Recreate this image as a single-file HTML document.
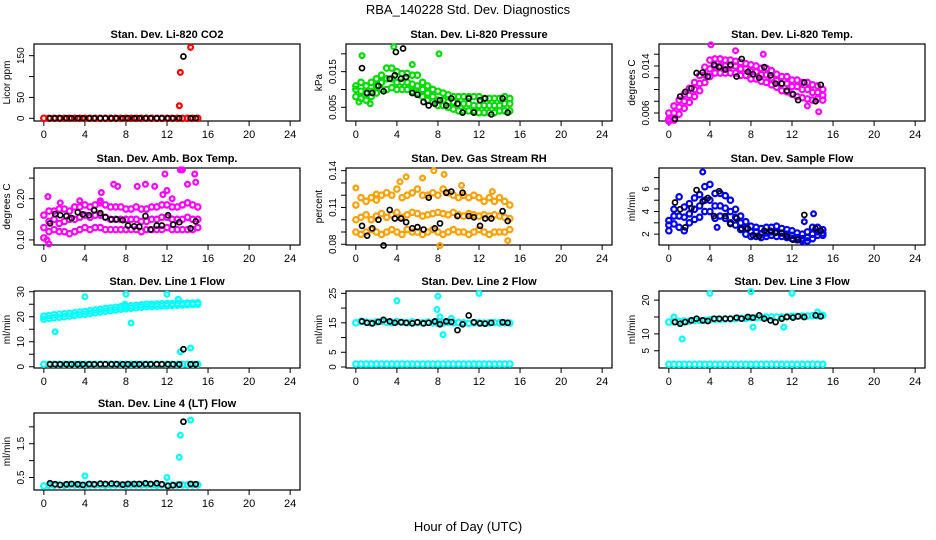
<!DOCTYPE html>
<html><head><meta charset="utf-8"><style>
html,body{margin:0;padding:0;background:#fff}
svg{display:block}
text{font-family:"Liberation Sans",sans-serif}
</style></head><body>
<svg id="chart" width="936" height="540" xmlns="http://www.w3.org/2000/svg">
<text x="468" y="14" text-anchor="middle" font-size="13">RBA_140228  Std. Dev. Diagnostics</text>
<text x="468" y="531" text-anchor="middle" font-size="13">Hour of Day (UTC)</text>
</svg>
<script>
// shared times (hours) for main series
const T = [0,0.5,1,1.5,2,2.5,3,3.5,4,4.5,5,5.5,6,6.5,7,7.5,8,8.5,9,9.5,10,10.5,11,11.5,12,12.5,13,13.5,14,14.5,15];
// black sample times
const BT = [0.6,1.1,1.6,2.2,2.7,3.3,3.8,4.4,4.9,5.5,6.0,6.6,7.1,7.7,8.2,8.8,9.3,9.9,10.4,11.0,11.5,12.1,12.6,13.2,14.3,14.8];
const xTicks = [0,4,8,12,16,20,24];

// Panel 1: CO2
const co2Main = [0,0,0,0,0,0,0,0,0,0,0,0,0,0,0,0,0,0,0,0,0,0,0,0,0,0,0,0,0,0,0];
const co2OutT = [13.2,13.3,14.3];
const co2OutV = [30,110,170];
const co2Black = [0,0,0,0,0,0,0,0,0,0,0,0,0,0,0,0,0,0,0,0,0,0,0,0,0,0];
const co2BlackOutT = [13.6];
const co2BlackOutV = [148];
// Panel 2: pressure (x0.001 kPa)
const presHi = [11,12,11,12,13,14,16,16,15,14.5,14.5,14,14,12,11,10,9.5,9,8.5,8,8,8,8,8,8,7.5,7.5,7.5,7.5,8,7.5];
const presMid = [10,9.5,9,9.5,11,12,13,13,12,12,12,11.5,11,10,9,8,7,7,6.5,6.5,6,6,6,5.5,5.5,5.5,5.5,5.5,5.5,6,6];
const presLo = [8,7.5,7,8,9,10,10,10.5,10,10,10,9.5,9,8,7,6.5,5.5,5.5,5,4.5,4,4,4,4,3.5,3.5,3.5,3.5,4,4,4];
const presOutT = [0.6,3.7,5.5,8.1,0.3,1.4];
const presOutV = [19.5,22,17,20,6.5,6];
const presBlack = [16,9,9,11,9.5,13,14,13,13.5,9,8.5,6.5,5.5,6,7,5.5,7.5,6,3.5,7.5,3.5,7,7.5,3,7.5,3.5];
const presBlackOutT = [3.9,4.6];
const presBlackOutV = [20.5,21.5];
// Panel 3: Li-820 temp (x0.001)
const tempHi = [6,7.2,8.2,9.2,10.2,11.2,12.4,13.8,15,15.2,15.2,15,15,14.8,14.6,14.4,14.2,14,13.6,13.6,13.2,12.6,12.2,12.2,11.6,11.6,11.2,11.2,10.8,10.6,10];
const tempMid = [5,6,7,8,9,10,11,12.5,13.5,14,14,14,14,14,13.5,13.5,13,13,12.5,12.5,12,11.5,11,11,10.5,10.5,10,10,9.5,9.5,9];
const tempLo = [4.6,4.8,5.8,6.8,7.8,8.8,9.8,11.2,12.2,12.8,12.8,12.8,12.8,12.8,12.4,12.4,11.8,11.8,11.4,11.2,10.8,10.4,9.8,9.6,9.2,8.8,8.6,8.4,8.2,8.4,8.2];
const tempOutT = [4.1,6.5,9.2,13.5,14.6];
const tempOutV = [17.6,16.6,16,7.2,6.2];
const tempBlack = [5,8.8,9.6,10.2,12.8,12.9,12.2,14.2,13.8,13.4,14.2,12.2,15.2,13,12.6,12,13.8,12.4,11,11,9.8,9.2,8.2,11.2,8,10.8];
// Panel 4: amb box temp
const ambHi = [0.16,0.17,0.17,0.175,0.175,0.17,0.18,0.18,0.185,0.18,0.185,0.19,0.185,0.18,0.18,0.18,0.175,0.175,0.18,0.175,0.175,0.18,0.18,0.185,0.185,0.18,0.18,0.185,0.19,0.185,0.18];
const ambMid = [0.13,0.145,0.15,0.14,0.145,0.15,0.15,0.155,0.16,0.155,0.16,0.16,0.155,0.15,0.15,0.15,0.15,0.15,0.15,0.145,0.145,0.15,0.15,0.155,0.155,0.15,0.15,0.15,0.155,0.15,0.15];
const ambLo = [0.105,0.12,0.125,0.12,0.12,0.115,0.12,0.125,0.13,0.125,0.13,0.13,0.125,0.125,0.125,0.125,0.125,0.125,0.125,0.12,0.125,0.125,0.125,0.125,0.13,0.125,0.125,0.125,0.125,0.125,0.13];
const ambOutT = [0.3,0.5,0.4,1.6,5.6,6.8,7.2,9.1,9.9,10.8,11.6,11.8,12.0,13.3,13.5,14.0,14.7,14.8,3.5,5.5,12.5];
const ambOutV = [0.1,0.09,0.205,0.19,0.215,0.235,0.23,0.23,0.235,0.23,0.21,0.26,0.22,0.27,0.27,0.235,0.26,0.24,0.195,0.195,0.2];
const ambBlack = [0.14,0.163,0.16,0.158,0.153,0.167,0.162,0.16,0.172,0.165,0.155,0.15,0.15,0.148,0.135,0.133,0.132,0.158,0.125,0.135,0.135,0.16,0.137,0.143,0.128,0.145];
// Panel 5: gas stream RH
const rhHi = [0.112,0.118,0.115,0.118,0.116,0.12,0.122,0.12,0.125,0.118,0.12,0.122,0.125,0.12,0.12,0.122,0.12,0.125,0.122,0.12,0.118,0.12,0.118,0.12,0.118,0.115,0.118,0.115,0.118,0.115,0.112];
const rhMid = [0.1,0.102,0.104,0.1,0.103,0.105,0.102,0.104,0.106,0.102,0.104,0.106,0.105,0.103,0.104,0.105,0.106,0.105,0.104,0.106,0.104,0.103,0.105,0.104,0.103,0.104,0.103,0.104,0.103,0.102,0.101];
const rhLo = [0.09,0.088,0.09,0.092,0.09,0.088,0.09,0.092,0.09,0.088,0.092,0.09,0.09,0.088,0.09,0.092,0.09,0.088,0.09,0.092,0.09,0.09,0.088,0.09,0.092,0.09,0.088,0.09,0.09,0.09,0.092];
const rhOutT = [0,4.3,4.9,6.5,7.6,8.6,8.2,10.3,13.3,14.8,2.0];
const rhOutV = [0.126,0.131,0.135,0.134,0.14,0.137,0.079,0.128,0.123,0.083,0.121];
const rhBlack = [0.095,0.087,0.093,0.1,0.079,0.108,0.101,0.101,0.098,0.093,0.094,0.092,0.118,0.093,0.097,0.122,0.123,0.103,0.122,0.103,0.102,0.095,0.101,0.101,0.107,0.099];
// Panel 6: sample flow
const flowHi = [3.2,4.2,5.3,4.4,4.7,5.2,5.5,6.2,6.4,5.6,5.6,5.4,5,4.2,3.6,3.1,2.7,2.6,2.5,2.6,2.6,2.7,2.5,2.4,2.3,2.1,2,2.2,2.6,2.6,2.4];
const flowMid = [2.8,3.6,3.6,3.5,3.8,4.2,4.5,5,5,4.5,4.5,4.3,4,3.5,3,2.5,2.2,2.2,2,2.1,2.2,2.2,2.1,2,1.9,1.7,1.6,1.7,2,2.2,2.1];
const flowLo = [2.3,2.9,2.6,2.3,3,3.3,3.5,4,4,3.4,3.6,3.4,3,2.8,2.4,2,1.8,1.8,1.7,1.8,1.9,1.8,1.8,1.7,1.6,1.5,1.4,1.4,1.6,1.9,1.9];
const flowOutT = [3.3,4.7,13.2,14.1];
const flowOutV = [7.5,2.6,3.1,3.8];
const flowBlack = [4.8,4.2,2.6,4.3,5.9,4.9,5.2,3.6,5.8,3.6,2.9,3.4,2.5,2.5,1.9,1.8,2.3,2.3,2.1,2.1,1.8,1.5,1.5,3.7,2.5,2.3];
// Panel 7: line 1 flow
const l1Band = [19,19.3,19.6,19.8,20,20.3,20.5,20.8,21,21.3,21.6,21.9,22.2,22.4,22.7,23,23.2,23.4,23.6,23.8,24,24.1,24.2,24.3,24.4,24.5,24.6,24.7,24.8,24.9,25];
const l1Band2 = [20.2,20.5,20.8,21,21.2,21.4,21.6,21.9,22.1,22.4,22.7,23,23.3,23.5,23.8,24,24.2,24.4,24.6,24.8,25,25,25.1,25.2,25.3,25.3,25.4,25.4,25.5,25.5,25.6];
const l1Base = [1,1,1,1,1,1,1,1,1,1,1,1,1,1,1,1,1,1,1,1,1,1,1,1,1,1,1,1,1,1,1];
const l1OutT = [4,8,12,1.1,8.5,13.3,14.3,7.9,13.1];
const l1OutV = [28,29,29,14,17.5,6,7.5,25,27];
const l1Black = [1,1,1,1,1,1,1,1,1,1,1,1,1,1,1,1,1,1,1,1,1,1,1,1,1,1];
const l1BlackOutT = [13.6];
const l1BlackOutV = [7];
// Panel 8: line 2 flow
const l2Band = [15,15.5,15.2,15,15.3,15.5,15.2,15,15.4,15.2,15,15.3,15.1,15,15.2,15,14.8,15,15.2,15,15.1,15,14.8,15,15,14.9,15,15.1,15,15,14.9];
const l2Base = [1,1,1,1,1,1,1,1,1,1,1,1,1,1,1,1,1,1,1,1,1,1,1,1,1,1,1,1,1,1,1];
const l2OutT = [4,8,12,7.9,8.5,8.2,9.3];
const l2OutV = [22.5,24,25,19.5,11,17,16.5];
const l2Black = [15.5,15,14.8,15.3,16,15.5,15,15.2,15,14.8,15.2,14.8,15,15.5,14.5,15.5,15.3,12.5,14.5,17.5,15.2,14.8,14.7,15,15.2,15];
// Panel 9: line 3 flow
const l3Band = [13.5,13.6,13.7,13.8,13.8,14,14,14,14.2,14.3,14.3,14.4,14.4,14.5,14.6,14.6,14.8,14.8,14.9,15,15,15,15,15.1,15.2,15.2,15.3,15.3,15.4,15.4,15.5];
const l3Base = [1,1,1,1,1,1,1,1,1,1,1,1,1,1,1,1,1,1,1,1,1,1,1,1,1,1,1,1,1,1,1];
const l3OutT = [4,8,12,1.3,8.2,11.2,14.5,0.5];
const l3OutV = [22,22.5,22,8.5,12,12,16.5,15];
const l3Black = [13.5,13,13.5,14,14.5,14,13.8,14.5,14.5,14.5,14.5,14.8,14.5,15,14.8,15.5,14.5,14,13.5,14.5,15,14.8,15.2,15,15.5,15.2];
// Panel 10: line 4 flow
const l4Band = [0.25,0.27,0.27,0.28,0.27,0.28,0.28,0.28,0.27,0.28,0.28,0.28,0.27,0.28,0.28,0.28,0.27,0.28,0.28,0.28,0.28,0.28,0.27,0.28,0.27,0.28,0.28,0.28,0.28,0.28,0.28];
const l4OutT = [4,12,13.2,13.3,14.3];
const l4OutV = [0.55,0.5,1.1,1.75,2.2];
const l4Black = [0.33,0.3,0.28,0.3,0.31,0.3,0.28,0.31,0.3,0.32,0.31,0.32,0.31,0.29,0.31,0.31,0.31,0.33,0.31,0.33,0.3,0.25,0.27,0.29,0.31,0.3];
const l4BlackOutT = [13.6];
const l4BlackOutV = [2.15];

const panels = [
 {name:'co2',title:'Stan. Dev. Li-820 CO2',ylab:'Licor ppm',col:0,row:0,ylim:[-6.5,178],ticks:[0,50,100,150],labels:[0,50,null,150],color:'#ff0000',
  main:[co2Main],outT:co2OutT,outV:co2OutV,black:co2Black,bOutT:co2BlackOutT,bOutV:co2BlackOutV},
 {name:'pressure',title:'Stan. Dev. Li-820 Pressure',ylab:'kPa',col:1,row:0,ylim:[1.16,22.76],ticks:[5,10,15,20],labels:['0.005',null,'0.015',null],color:'#00dd00',
  main:[presHi,presMid,presLo],outT:presOutT,outV:presOutV,black:presBlack,bOutT:presBlackOutT,bOutV:presBlackOutV},
 {name:'li820-temp',title:'Stan. Dev. Li-820 Temp.',ylab:'degrees C',col:2,row:0,ylim:[4.64,17.74],ticks:[6,8,10,12,14,16],labels:['0.006',null,null,null,'0.014',null],color:'#ff00ff',
  main:[tempHi,tempMid,tempLo],outT:tempOutT,outV:tempOutV,black:tempBlack},
 {name:'amb-box-temp',title:'Stan. Dev. Amb. Box Temp.',ylab:'degrees C',col:0,row:1,ylim:[0.0877,0.2745],ticks:[0.10,0.15,0.20,0.25],labels:['0.10',null,'0.20',null],color:'#ff00ff',
  main:[ambHi,ambMid,ambLo],outT:ambOutT,outV:ambOutV,black:ambBlack},
 {name:'gas-stream-rh',title:'Stan. Dev. Gas Stream RH',ylab:'percent',col:1,row:1,ylim:[0.0794,0.1422],ticks:[0.08,0.09,0.10,0.11,0.12,0.13,0.14],labels:['0.08',null,null,'0.11',null,null,'0.14'],color:'#ffa000',
  main:[rhHi,rhMid,rhLo],outT:rhOutT,outV:rhOutV,black:rhBlack},
 {name:'sample-flow',title:'Stan. Dev. Sample Flow',ylab:'ml/min',col:2,row:1,ylim:[1.04,7.85],ticks:[2,3,4,5,6,7],labels:[2,null,4,null,6,null],color:'#0000ff',
  main:[flowHi,flowMid,flowLo],outT:flowOutT,outV:flowOutV,black:flowBlack},
 {name:'line1-flow',title:'Stan. Dev. Line 1 Flow',ylab:'ml/min',col:0,row:2,ylim:[-0.5,30.3],ticks:[0,5,10,15,20,25,30],labels:[0,null,10,null,20,null,30],color:'#00ffff',
  main:[l1Band,l1Band2,l1Base],outT:l1OutT,outV:l1OutV,black:l1Black,bOutT:l1BlackOutT,bOutV:l1BlackOutV},
 {name:'line2-flow',title:'Stan. Dev. Line 2 Flow',ylab:'ml/min',col:1,row:2,ylim:[-0.34,25.8],ticks:[0,5,10,15,20,25],labels:[0,5,null,15,null,25],color:'#00ffff',
  main:[l2Band,l2Base],outT:l2OutT,outV:l2OutV,black:l2Black},
 {name:'line3-flow',title:'Stan. Dev. Line 3 Flow',ylab:'ml/min',col:2,row:2,ylim:[-0.1,22.7],ticks:[5,10,15,20],labels:[5,10,null,20],color:'#00ffff',
  main:[l3Band,l3Base],outT:l3OutT,outV:l3OutV,black:l3Black},
 {name:'line4-flow',title:'Stan. Dev. Line 4 (LT) Flow',ylab:'ml/min',col:0,row:3,ylim:[0.13,2.41],ticks:[0.5,1.0,1.5,2.0],labels:['0.5',null,'1.5',null],color:'#00ffff',
  main:[l4Band],outT:l4OutT,outV:l4OutV,black:l4Black,bOutT:l4BlackOutT,bOutV:l4BlackOutV}
];

const NS='http://www.w3.org/2000/svg';
const svg=document.getElementById('chart');
const colX=[34,346,659], rowY=[44,168,291,413], W=266, H=77;
function mk(tag,attrs,parent){const e=document.createElementNS(NS,tag);for(const k in attrs)e.setAttribute(k,attrs[k]);parent.appendChild(e);return e;}

panels.forEach(p=>{
  const L=colX[p.col], Tp=rowY[p.row];
  const g=mk('g',{},svg);
  
  
  const sx=v=>L+(v+0.96)/25.92*W;
  const sy=v=>Tp+H-(v-p.ylim[0])/(p.ylim[1]-p.ylim[0])*H;
  const title=mk('text',{x:L+W/2,y:Tp-6,'text-anchor':'middle','font-size':'11','font-weight':'bold'},g);
  title.textContent=p.title;
  
  
  const box=mk('rect',{x:L,y:Tp,width:W,height:H,fill:'none',stroke:'#000','stroke-width':'1.2'},g);
  
  
  xTicks.forEach(t=>{
    mk('line',{x1:sx(t),x2:sx(t),y1:Tp+H,y2:Tp+H+5,stroke:'#000'},g);
    const tx=mk('text',{x:sx(t),y:Tp+H+17,'text-anchor':'middle','font-size':'11'},g);
    tx.textContent=t;
    
    
  });
  p.ticks.forEach((t,i)=>{
    const y=sy(t);
    mk('line',{x1:L-5,x2:L,y1:y,y2:y,stroke:'#000'},g);
    if(p.labels[i]!==null){
      const ty=mk('text',{x:L-10,y:y,'text-anchor':'middle','font-size':'10',transform:`rotate(-90 ${L-10} ${y})`},g);
      ty.textContent=p.labels[i];
      
      
    }
  });
  const yl=mk('text',{x:L-24,y:Tp+H/2,'text-anchor':'middle','font-size':'10',transform:`rotate(-90 ${L-24} ${Tp+H/2})`},g);
  yl.textContent=p.ylab;
  
  
  const pts=mk('g',{fill:'none',stroke:p.color,'stroke-width':'2.2'},g);
  
  
  p.main.forEach(arr=>arr.forEach((v,i)=>{
    const c=mk('circle',{cx:sx(T[i]),cy:sy(v),r:2.7},pts);
    
    
  }));
  p.outT.forEach((t,i)=>{
    const c=mk('circle',{cx:sx(t),cy:sy(p.outV[i]),r:2.4},pts);
    
    
  });
  const bk=mk('g',{fill:'none',stroke:'#000','stroke-width':'1.7'},g);
  
  
  p.black.forEach((v,i)=>{
    const c=mk('circle',{cx:sx(BT[i]),cy:sy(v),r:2.5},bk);
    
    
  });
  if(p.bOutT)p.bOutT.forEach((t,i)=>{
    const c=mk('circle',{cx:sx(t),cy:sy(p.bOutV[i]),r:2.5},bk);
    
    
  });
});
</script>
</body></html>
